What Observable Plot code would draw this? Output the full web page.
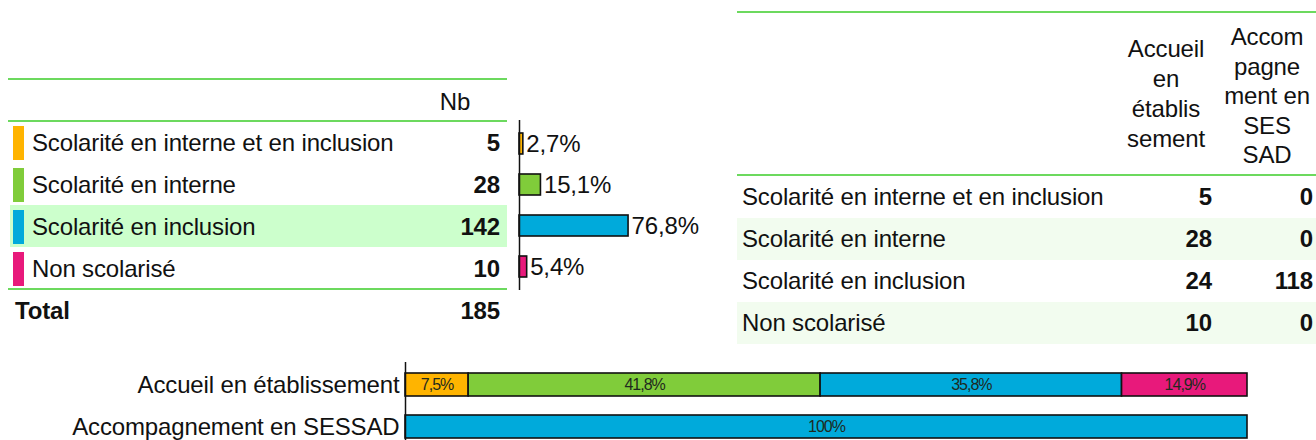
<!DOCTYPE html>
<html><head><meta charset="utf-8">
<script src="https://cdn.jsdelivr.net/npm/d3@7"></script>
<script src="https://cdn.jsdelivr.net/npm/@observablehq/plot@0.6"></script>
<style>
body{margin:0;background:#fff;}
#root{position:relative;width:1316px;height:440px;overflow:hidden;font-family:"Liberation Sans",Arial,sans-serif;color:#111;}
.line{position:absolute;height:2px;background:#6cd95e;}
.box{position:absolute;}
.txt{position:absolute;font-size:24px;white-space:nowrap;line-height:1;letter-spacing:-0.15px;}
.plot{position:absolute;}
.plot text{letter-spacing:-0.15px;}
.plot g[font-size="16"] text{letter-spacing:-1px;}
</style></head><body><div id="root"></div>
<script>
// ---- data ----
const categories = ["Scolarité en interne et en inclusion", "Scolarité en interne", "Scolarité en inclusion", "Non scolarisé"];
const nb = [5, 28, 142, 10];
const totalLabel = "Total";
const total = 185;
const pct = [2.7, 15.1, 76.8, 5.4];
const accueil = [5, 28, 24, 10];
const sessad = [0, 0, 118, 0];
const modes = ["Accueil en établissement", "Accompagnement en SESSAD"];
const accueilPct = [7.5, 41.8, 35.8, 14.9];
const sessadPct = [0, 0, 100, 0];
const headerNb = "Nb";
const headerAccueil = ["Accueil", "en", "établis", "sement"];
const headerSessad = ["Accom", "pagne", "ment en", "SES", "SAD"];
const colors = ["#FFB400", "#80CC3A", "#00AADB", "#E8197B"];

const fmt = v => (v === 100 ? "100" : v.toFixed(1).replace(".", ",")) + "%";
const root = document.getElementById("root");
const FONT = "Liberation Sans, Arial, sans-serif";

function line(x, y, w) {
  const d = document.createElement("div"); d.className = "line";
  d.style.left = x + "px"; d.style.top = y + "px"; d.style.width = w + "px"; root.appendChild(d);
}
function box(x, y, w, h, c) {
  const d = document.createElement("div"); d.className = "box";
  Object.assign(d.style, {left: x + "px", top: y + "px", width: w + "px", height: h + "px", background: c});
  root.appendChild(d);
}
function text(str, x, y, align = "left", bold = false) {
  const d = document.createElement("div"); d.className = "txt"; d.textContent = str;
  d.style.left = x + "px"; d.style.top = y + "px";
  const tx = align === "right" ? "-100%" : align === "center" ? "-50%" : "0";
  d.style.transform = `translate(${tx},-50%)`;
  if (bold) d.style.fontWeight = "bold";
  root.appendChild(d); return d;
}
function stack(lines, cx, cy, lh) {
  const d = document.createElement("div"); d.className = "txt";
  d.style.textAlign = "center"; d.style.lineHeight = lh + "px";
  d.style.left = cx + "px"; d.style.top = cy + "px"; d.style.transform = "translate(-50%,-50%)";
  lines.forEach((l, i) => { if (i) d.appendChild(document.createElement("br")); d.appendChild(document.createTextNode(l)); });
  root.appendChild(d);
}

// ---- left table ----
const rowC = [142.5, 184.5, 226.5, 268.5];
box(10, 205, 497, 42, "#CCFFCC");
line(8, 78, 499); line(8, 120, 499); line(8, 288, 499);
text(headerNb, 455, 102, "center");
categories.forEach((c, i) => {
  box(13, rowC[i] - 17, 11, 34, colors[i]);
  text(c, 32, rowC[i]);
  text(String(nb[i]), 500, rowC[i], "right", true);
});
text(totalLabel, 15, 311, "left", true);
text(String(total), 500, 311, "right", true);

// ---- right table ----
const rC = [197, 239, 281, 323];
box(737, 218, 579, 42, "#F2FCEF");
box(737, 302, 579, 42, "#F2FCEF");
line(737, 11, 579); line(737, 174, 579);
stack(headerAccueil, 1166, 94, 30);
stack(headerSessad, 1267, 96, 29.5);
categories.forEach((c, i) => {
  text(c, 742, rC[i]);
  text(String(accueil[i]), 1212, rC[i], "right", true);
  text(String(sessad[i]), 1313, rC[i], "right", true);
});

// ---- middle bar chart ----
const rows = categories.map((c, i) => ({category: c, pct: pct[i]}));
const mid = Plot.plot({
  width: 200, height: 170, marginLeft: 9, marginRight: 49, marginTop: 0, marginBottom: 0,
  x: {domain: [0, 100], axis: null},
  y: {domain: categories, axis: null, paddingInner: 0.5, paddingOuter: 0.274},
  color: {domain: categories, range: colors},
  style: {fontFamily: FONT, background: "transparent", overflow: "visible"},
  marks: [
    Plot.barX(rows, {x: "pct", y: "category", fill: "category", stroke: "#111", strokeWidth: 1.6}),
    Plot.ruleX([0], {stroke: "#111", strokeWidth: 1.5}),
    Plot.text(rows, {x: "pct", y: "category", text: d => fmt(d.pct), textAnchor: "start", dx: 3, fontSize: 24, fill: "#111"})
  ]
});
mid.classList.add("plot"); mid.style.left = "510px"; mid.style.top = "120px";
root.appendChild(mid);

// ---- bottom stacked bars ----
const segs = [];
modes.forEach((m, j) => {
  const vals = j === 0 ? accueilPct : sessadPct;
  categories.forEach((c, i) => { if (vals[i] > 0) segs.push({mode: m, category: c, value: vals[i]}); });
});
const bottom = Plot.plot({
  width: 1316, height: 82, marginLeft: 405, marginRight: 69, marginTop: 4, marginBottom: 0,
  x: {domain: [0, 100], axis: null},
  y: {domain: modes, axis: null, paddingInner: 0.459, paddingOuter: 0.147},
  color: {domain: categories, range: colors},
  style: {fontFamily: FONT, background: "transparent", overflow: "visible"},
  marks: [
    Plot.barX(segs, Plot.stackX({x: "value", y: "mode", fill: "category", order: null, stroke: "#111", strokeWidth: 1.6})),
    Plot.ruleX([0], {stroke: "#111", strokeWidth: 1.5, insetTop: -4}),
    Plot.text(segs, Plot.stackX({x: "value", y: "mode", z: "category", order: null, text: d => fmt(d.value), fontSize: 16, fill: "#1e2a1e"})),
    Plot.text(modes, {y: d => d, text: d => d, frameAnchor: "left", textAnchor: "end", dx: -6, fontSize: 24, fill: "#111"})
  ]
});
bottom.classList.add("plot"); bottom.style.left = "0px"; bottom.style.top = "362px";
root.appendChild(bottom);
</script></body></html>
